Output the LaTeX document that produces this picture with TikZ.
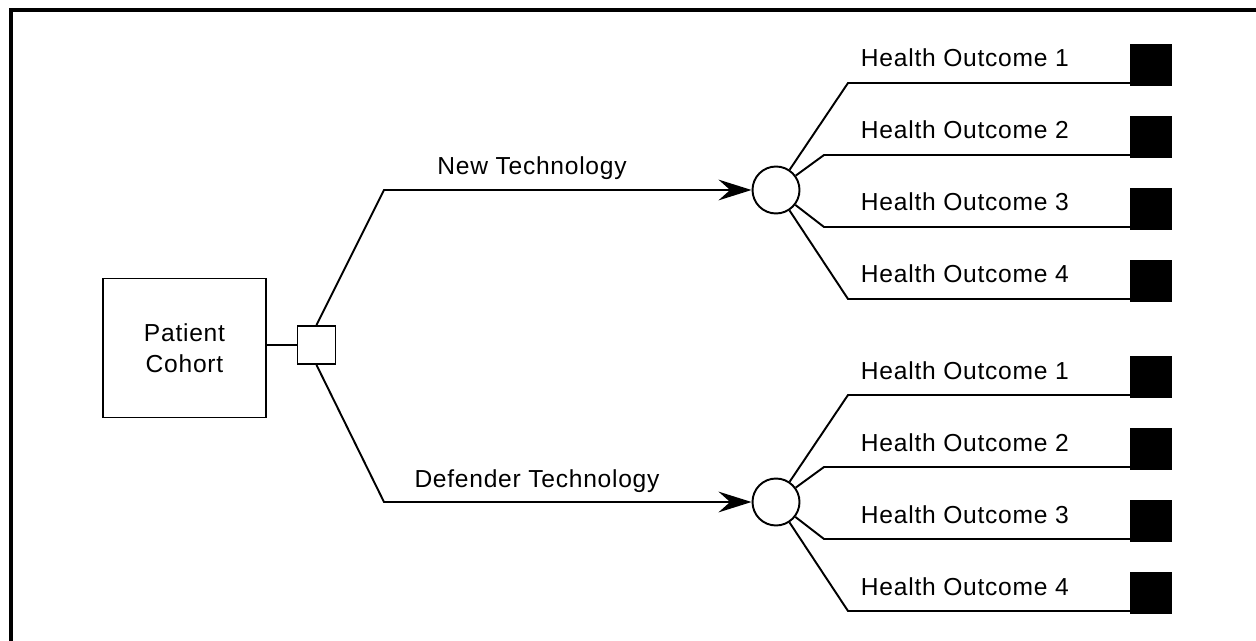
\documentclass[tikz,border=0pt]{standalone}
\usepackage{fontspec}
\setmainfont{Liberation Sans}[LetterSpace=3.0]
\usetikzlibrary{arrows.meta, positioning}

\begin{document}
\begin{tikzpicture}[
  x = 0.02cm, y = -0.02cm,
  line width = 1.1pt,
  font = \fontsize{14}{17.6}\selectfont,
  cohortbox/.style = {rectangle, draw, minimum width=3.26cm,
                      minimum height=2.78cm, align=center, inner sep=0pt},
  choice/.style    = {rectangle, draw, minimum size=0.76cm, inner sep=0pt},
  chance/.style    = {circle, draw, minimum size=0.94cm, inner sep=0pt},
  leaf/.style      = {rectangle, draw, fill=black, minimum size=0.8cm,
                      inner sep=0pt, anchor=south},
  arm/.style       = {-{Stealth[length=18.8pt, width=11.8pt, inset=6.6pt]}},
  lbl/.style       = {anchor=base, inner sep=0pt},
  olbl/.style      = {anchor=base west, inner sep=0pt},
]
\useasboundingbox (0,0) rectangle (1256,641);

%% ── Frame ────────────────────────────────────────────────────────────────
\draw[line width=2.3pt] (11,660) -- (11,10) -- (1270,10);

%% ── Cohort and decision ──────────────────────────────────────────────────
\node[cohortbox] (cohort) at (184.5,348) {Patient\\Cohort};
\node[choice]    (choice) at (316.5,345) {};

%% ── Chance nodes ─────────────────────────────────────────────────────────
\coordinate (newbend) at (384,190);
\coordinate (defbend) at (384,502);
\node[chance] (newc) at (776,190) {};
\node[chance] (defc) at (776,502) {};

%% ── Arrows ───────────────────────────────────────────────────────────────
\draw (cohort.east |- choice.west) -- (choice.west);
\draw[arm] (choice.north) -- (newbend) -- (newc.west);
\draw[arm] (choice.south) -- (defbend) -- (defc.west);

%% ── Labels ───────────────────────────────────────────────────────────────
\node[lbl] (newlbl) at (532,175) {New Technology};
\node[lbl] (deflbl) at (537,487) {Defender Technology};

%% ── Health outcomes ──────────────────────────────────────────────────────
\foreach \c/\dy in {newc/0, defc/312}{
  \foreach \k/\cx in {1/848, 2/824, 3/824, 4/848}{
    \pgfmathsetmacro\ly{83+72*(\k-1)+\dy}
    \coordinate (knee\c\k) at (\cx,\ly);
    \node[leaf] (leaf\c\k) at (1151,{\ly+3}) {};
    \node[olbl] (lbl\c\k)  at (860,{\ly-16}) {Health Outcome \k};
    \draw (\c) -- (knee\c\k) -- (knee\c\k -| leaf\c\k.west);
  }
}

\end{tikzpicture}
\end{document}
